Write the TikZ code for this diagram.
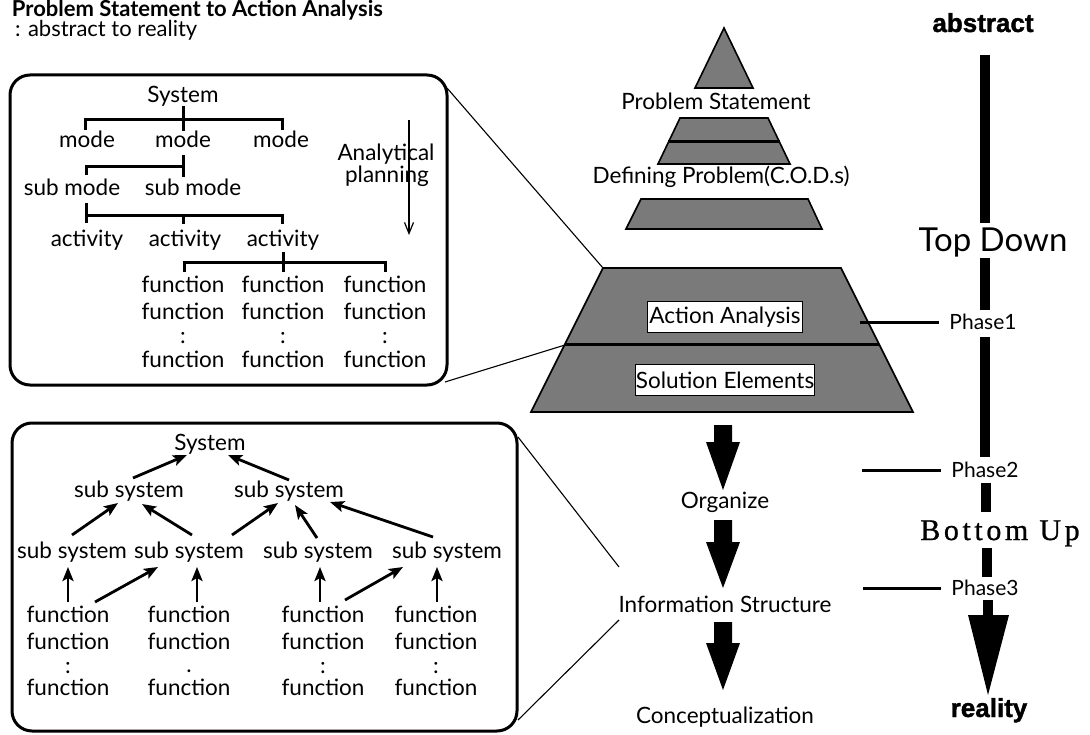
\documentclass[tikz,border=0pt]{standalone}
\usepackage{fontspec}
\setmainfont{Lato}
\newfontfamily\headfont[BoldFeatures={FakeBold=1.5}]{Liberation Sans}
\newfontfamily\serfont[LetterSpace=12,FakeBold=0.8]{Liberation Serif}
\usetikzlibrary{arrows.meta,calc}
\begin{document}
\begin{tikzpicture}[x=1pt,y=-1pt,
  every node/.style={inner sep=0pt,outer sep=0pt},
  tx/.style={anchor=base,font=\fontsize{22.5}{27}\selectfont},
  ts/.style={anchor=base,font=\fontsize{21}{25}\selectfont},
  brk/.style={line width=3pt},
  uparr/.style={line width=2.8pt,-{Stealth[length=14pt,width=11pt,inset=3pt]}},
  lead/.style={line width=1.1pt},
  pyr/.style={draw=black,line width=1.6pt,fill=black!52},
  lbl/.style={draw=black,line width=1pt,fill=white},
  boxframe/.style={draw=black,line width=3pt,rounded corners=20pt},
  heavy/.style={anchor=base,font=\headfont\bfseries\fontsize{26}{30}\selectfont}
]
\fill[white] (0,0) rectangle (1090,735);
\useasboundingbox (0,0) rectangle (1090,735);

% title
\node[anchor=base west,font=\bfseries\fontsize{22}{26}\selectfont] (title) at (12,17) {Problem Statement to Action Analysis};
\node[anchor=base west,font=\fontsize{22}{26}\selectfont] (subt) at (15,37) {: abstract to reality};

% ---------- top box ----------
\node[boxframe,minimum width=437pt,minimum height=310pt] (box1) at (228.5,230) {};
\node[tx] (sys1) at (183,103) {System};
\node[tx] (m1) at (87,148) {mode};
\node[tx] (m2) at (183,148) {mode};
\node[tx] (m3) at (281,148) {mode};
\node[tx] (sm1) at (72,196) {sub mode};
\node[tx] (sm2) at (193,196) {sub mode};
\node[tx] (a1) at (87,247) {activity};
\node[tx] (a2) at (185,247) {activity};
\node[tx] (a3) at (283,247) {activity};
\foreach \n/\x in {fa/183,fb/283,fc/385}{
  \node[tx] (\n1) at (\x,293) {function};
  \node[tx] (\n2) at (\x,320) {function};
  \node[tx] (\n3) at (\x,344) {:};
  \node[tx] (\n4) at (\x,367) {function};
}
\node[tx] (anl) at (386,161) {Analytical};
\node[tx] (pln) at (387,183) {planning};
\coordinate (ap1) at (409,120);
\coordinate (ap2) at (409,235);
\draw[line width=1.2pt,-{Straight Barb[length=11pt,width=9pt]}] (ap1) -- (ap2);

% brackets
\draw[brk] ([shift={(0,3)}]sys1.base) -- ([shift={(0,-17)}]m2.base);
\draw[brk] ([shift={(-2,-18)}]m1.base) -- ([shift={(-2,-28)}]m1.base) -- ([shift={(1,-28)}]m3.base) -- ([shift={(1,-18)}]m3.base);
\draw[brk] ([shift={(0,7)}]m2.base) -- ([shift={(-10,-19)}]sm2.base);
\draw[brk] ([shift={(14,-21)}]sm1.base) -- ([shift={(14,-29)}]sm1.base) -- ([shift={(0,19)}]m2.base);
\draw[brk] ([shift={(14,7)}]sm1.base) -- ([shift={(-1,-24)}]a1.base);
\draw[brk] ([shift={(-1,-31)}]a1.base) -- ([shift={(-1,-31)}]a3.base) -- ([shift={(-1,-23)}]a3.base);
\draw[brk] ([shift={(-2,-31)}]a2.base) -- ([shift={(-2,-23)}]a2.base);
\draw[brk] ([shift={(0,5)}]a3.base) -- ([shift={(0,-21)}]fb1.base);
\draw[brk] ([shift={(1,-21)}]fa1.base) -- ([shift={(1,-30)}]fa1.base) -- ([shift={(0,-30)}]fc1.base) -- ([shift={(0,-21)}]fc1.base);

% ---------- bottom box ----------
\node[boxframe,minimum width=505pt,minimum height=308pt] (box2) at (264.5,577) {};
\node[tx] (sys2) at (210,450) {System};
\node[tx] (la) at (129,497) {sub system};
\node[tx] (lb) at (289,497) {sub system};
\node[tx] (ka) at (72,558) {sub system};
\node[tx] (kb) at (189,558) {sub system};
\node[tx] (kc) at (318,558) {sub system};
\node[tx] (kd) at (447,558) {sub system};
\foreach \n/\x/\c/\cy in {ga/68/:/673,gb/189/./672,gc/323/:/673,gd/436/:/673}{
  \node[tx] (\n1) at (\x,622) {function};
  \node[tx] (\n2) at (\x,649) {function};
  \node[tx] (\n3) at (\x,\cy) {\c};
  \node[tx] (\n4) at (\x,695) {function};
}
\draw[uparr] ([shift={(4,-19)}]la.base) -- ([shift={(-23,5)}]sys2.base);
\draw[uparr] ([shift={(0,-17)}]lb.base) -- ([shift={(18,5)}]sys2.base);
\draw[uparr] ([shift={(0,-23)}]ka.base) -- ([shift={(-11,6)}]la.base);
\draw[uparr] ([shift={(3,-23)}]kb.base) -- ([shift={(13,7)}]la.base);
\draw[uparr] ([shift={(43,-23)}]kb.base) -- ([shift={(-11,6)}]lb.base);
\draw[uparr] ([shift={(-1,-20)}]kc.base) -- ([shift={(6,8)}]lb.base);
\draw[uparr] ([shift={(-14,-21)}]kd.base) -- ([shift={(41,5)}]lb.base);
\draw[uparr] ([shift={(0,-20)}]ga1.base) -- ([shift={(-4,9)}]ka.base);
\draw[uparr] ([shift={(27,-20)}]ga1.base) -- ([shift={(-31,9)}]kb.base);
\draw[uparr] ([shift={(8,-20)}]gb1.base) -- ([shift={(8,9)}]kb.base);
\draw[uparr] ([shift={(-3,-20)}]gc1.base) -- ([shift={(2,9)}]kc.base);
\draw[uparr] ([shift={(22,-22)}]gc1.base) -- ([shift={(-44,9)}]kd.base);
\draw[uparr] ([shift={(1,-20)}]gd1.base) -- ([shift={(-10,9)}]kd.base);

% ---------- pyramid ----------
\filldraw[pyr] (724,28) -- (753,88) -- (695,88) -- cycle;
\filldraw[pyr] (680,118) -- (768,118) -- (790,164) -- (658,164) -- cycle;
\draw[line width=3pt] (668,142) -- (780,142);
\filldraw[pyr] (641,199) -- (808,199) -- (822,229) -- (626,229) -- cycle;
\filldraw[pyr] (603,268) -- (841,268) -- (913,412) -- (531,412) -- cycle;
\draw[line width=3pt] (565,345) -- (879,345);
\coordinate (bigTL) at (603,268);
\coordinate (bigML) at (565,345);
\node[tx] (ps) at (716,110) {Problem Statement};
\node[tx] (dp) at (721,184) {Defining Problem(C.O.D.s)};
\node[lbl,minimum width=155pt,minimum height=31pt,font=\fontsize{22.5}{27}\selectfont] (aa) at (725,317.5) {Action Analysis};
\node[lbl,minimum width=176pt,minimum height=30pt,font=\fontsize{22.5}{27}\selectfont] (se) at (725,380) {Solution Elements};

% leads from boxes
\draw[lead] ([shift={(0,13)}]box1.north east) -- (bigTL);
\draw[lead] ([shift={(-2,-3)}]box1.south east) -- (bigML);

% ---------- central flow ----------
\node[tx] (org) at (725,508) {Organize};
\node[tx] (ist) at (725,612) {Information Structure};
\node[tx] (con) at (725,723) {Conceptualization};
\foreach \a/\b/\c in {425/442/490,520/542/588,622/643/690}{
  \fill (714,\a) -- (732,\a) -- (732,\b) -- (740,\b) -- (723,\c) -- (706,\b) -- (714,\b) -- cycle;
}
\draw[lead] ([shift={(1,14)}]box2.north east) -- ([shift={(-106,-45)}]ist.base);
\draw[lead] ([shift={(1,-11)}]box2.south east) -- ([shift={(-106,8)}]ist.base);

% ---------- right column ----------
\node[heavy] (abs) at (983,32) {abstract};
\node[anchor=base,font=\fontsize{33}{38}\selectfont] (td) at (993,252) {Top Down};
\node[ts] (ph1) at (983,330) {Phase1};
\node[ts] (ph2) at (985,477) {Phase2};
\node[anchor=base,font=\serfont\fontsize{30}{34}\selectfont] (bu) at (1000,540) {Bottom Up};
\node[ts] (ph3) at (985,595) {Phase3};
\node[heavy] (real) at (989,717) {reality};
\fill (980,55) rectangle (990,223);
\fill (980,258) rectangle (990,310);
\fill (980,337) rectangle (990,457);
\fill (981,483) rectangle (991,512);
\fill (982,548) rectangle (992,577);
\fill (983,600) rectangle (993,616);
\fill (968,615) -- (1009,615) -- (988,695) -- cycle;
\coordinate (p1a) at (860,323);
\coordinate (p2a) at (862,470);
\coordinate (p3a) at (863,588);
\draw[brk] (p1a) -- ($(p1a -| ph1.west)+(-10,0)$);
\draw[brk] (p2a) -- ($(p2a -| ph2.west)+(-10,0)$);
\draw[brk] (p3a) -- ($(p3a -| ph3.west)+(-10,0)$);
\end{tikzpicture}
\end{document}
